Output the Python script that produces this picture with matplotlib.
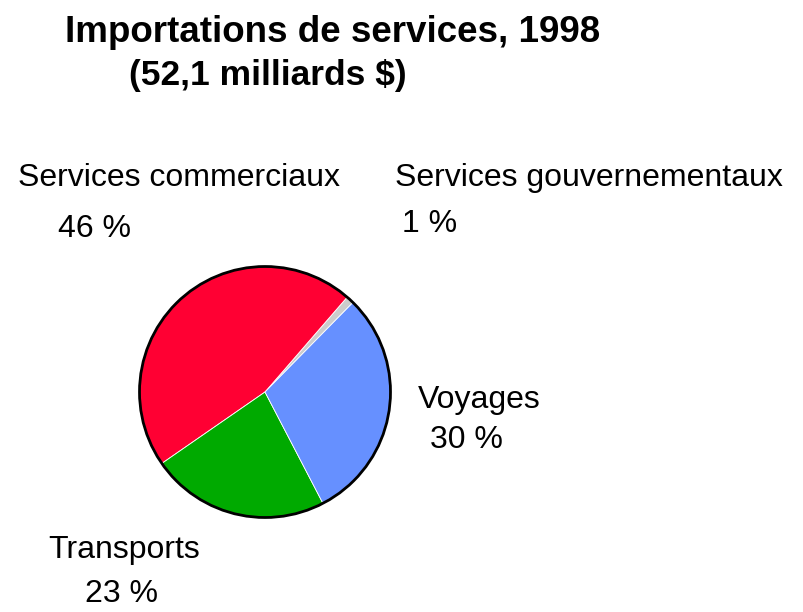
import matplotlib
matplotlib.use("Agg")
import matplotlib.pyplot as plt
from matplotlib.patches import Circle

# donnees
categories = ["Services gouvernementaux", "Services commerciaux", "Transports", "Voyages"]
parts = [1, 46, 23, 30]
colors = ["#CCCCCC", "#FF0033", "#00AA00", "#6690FF"]

W, H = 804, 612
plt.rcParams['font.family'] = ['Liberation Sans', 'DejaVu Sans']

fig = plt.figure(figsize=(W / 100, H / 100), dpi=100)

# axes du camembert, en pixels
cx, cy, r = 265, 392, 128
ax = fig.add_axes([(cx - r) / W, (H - cy - r) / H, 2 * r / W, 2 * r / H])
ax.pie(parts, colors=colors, startangle=45.5, counterclock=True, radius=1,
       wedgeprops=dict(edgecolor="white", linewidth=0.6))
ax.add_patch(Circle((0, 0), 1, fill=False, edgecolor="black", linewidth=2))
ax.set_xlim(-1.02, 1.02)
ax.set_ylim(-1.02, 1.02)
ax.set_aspect("equal")
ax.axis("off")

def txt(x, y, s, size, bold=False, ha="left"):
    fig.text(x / W, 1 - y / H, s, fontsize=size, ha=ha, va="center",
             fontweight="bold" if bold else "normal")

txt(333, 33, "Importations de services, 1998", 26.5, bold=True, ha="center")
txt(268, 75, "(52,1 milliards $)", 25.5, bold=True, ha="center")

txt(18, 178, "Services commerciaux", 23)
txt(58, 229, "46 %", 23)
txt(395, 178, "Services gouvernementaux", 23)
txt(402, 224, "1 %", 23)
txt(418, 400, "Voyages", 23)
txt(430, 440, "30 %", 23)
txt(48, 550, "Transports", 23)
txt(85, 594, "23 %", 23)

fig.savefig("out.png", dpi=100)
